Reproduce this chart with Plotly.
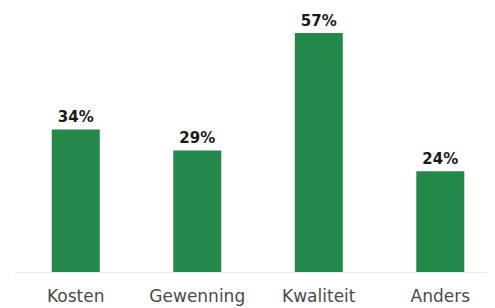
import plotly.graph_objects as go

categories = ["Kosten", "Gewenning", "Kwaliteit", "Anders"]
values = [34, 29, 57, 24]
labels = [f"{v}%" for v in values]

fig = go.Figure(go.Bar(
    x=categories, y=values, text=labels, textposition="outside",
    marker=dict(color="#23884a", line=dict(width=0)),
    textfont=dict(family="DejaVu Sans", size=15, color="#1a1a1a", weight="bold"),
    cliponaxis=False, width=0.395,
))
fig.update_layout(
    width=495, height=308, margin=dict(l=7, r=0, t=0, b=44),
    paper_bgcolor="white", plot_bgcolor="white", showlegend=False,
    xaxis=dict(range=[-0.5, 3.516], showline=True, linecolor="#ececec", linewidth=1,
               ticks="", showgrid=False, ticklabelstandoff=9,
               tickfont=dict(family="DejaVu Sans", size=17, color="#4a4a4a")),
    yaxis=dict(range=[0, 62.96], visible=False, showgrid=False),
)
fig.write_html("out.html")
